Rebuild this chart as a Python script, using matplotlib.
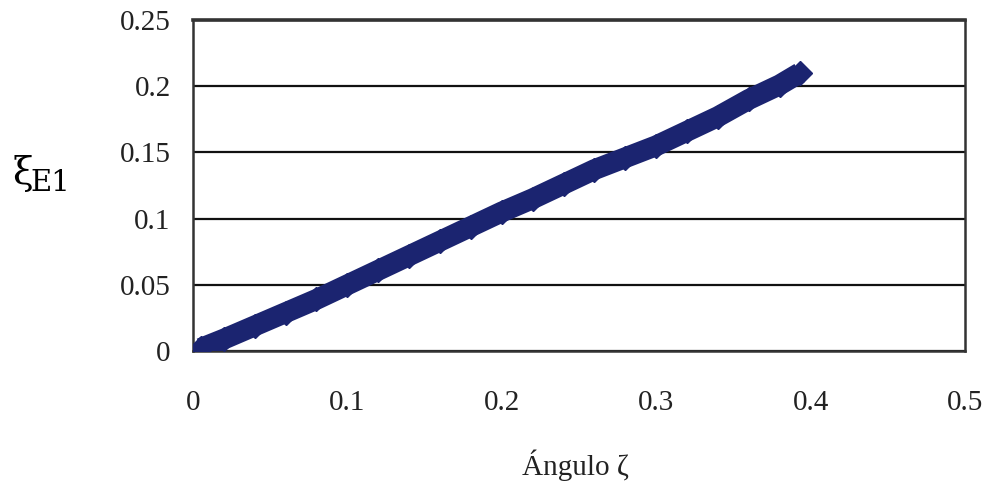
import numpy as np
import matplotlib.pyplot as plt

# values
angulo = [0.005, 0.02, 0.04, 0.06, 0.08, 0.10, 0.12, 0.14, 0.16, 0.18, 0.20,
          0.22, 0.24, 0.26, 0.28, 0.30, 0.32, 0.34, 0.36, 0.38, 0.393]
xi_e1 = [0.002, 0.009, 0.019, 0.029, 0.039, 0.050, 0.061, 0.072, 0.083, 0.094, 0.105,
         0.115, 0.126, 0.137, 0.146, 0.155, 0.166, 0.177, 0.190, 0.201, 0.210]
xticks = [0, 0.1, 0.2, 0.3, 0.4, 0.5]
yticks = [0, 0.05, 0.1, 0.15, 0.2, 0.25]

serif = 'Liberation Serif'
navy = '#1b2470'

fig = plt.figure(figsize=(9.88, 4.91), dpi=100)
ax = fig.add_axes([0.1953, 0.2851, 0.7814, 0.6742])

ax.plot(angulo, xi_e1, color=navy, lw=15, solid_capstyle='butt', zorder=3)
ax.plot(angulo, xi_e1, color=navy, lw=0, marker='D', ms=12, zorder=3)

ax.set_xlim(0, 0.5)
ax.set_ylim(0, 0.25)
ax.set_xticks(xticks)
ax.set_yticks(yticks)
ax.set_xticklabels(['0', '0.1', '0.2', '0.3', '0.4', '0.5'], fontfamily=serif, fontsize=21, color='#222222')
ax.set_yticklabels(['0', '0.05', '0.1', '0.15', '0.2', '0.25'], fontfamily=serif, fontsize=21, color='#222222')
ax.tick_params(axis='x', length=0, pad=28)
ax.tick_params(axis='y', length=0, pad=16)

ax.yaxis.grid(True, color='#111111', lw=1.6)
ax.set_axisbelow(True)
for s in ax.spines.values():
    s.set_color('#333333')
    s.set_linewidth(1.8)
ax.spines['top'].set_linewidth(2.6)

fig.text(0.582, 1 - 465 / 491, 'Ángulo ζ', fontfamily=serif, fontsize=21,
         ha='center', va='center', color='#222222')
fig.text(12 / 988, 1 - 184 / 491, 'ξ', fontfamily='DejaVu Serif', fontsize=27,
         ha='left', va='baseline')
fig.text(30 / 988, 1 - 191 / 491, 'E1', fontfamily='DejaVu Serif', fontsize=21,
         ha='left', va='baseline')

fig.savefig('out.png', dpi=100)
